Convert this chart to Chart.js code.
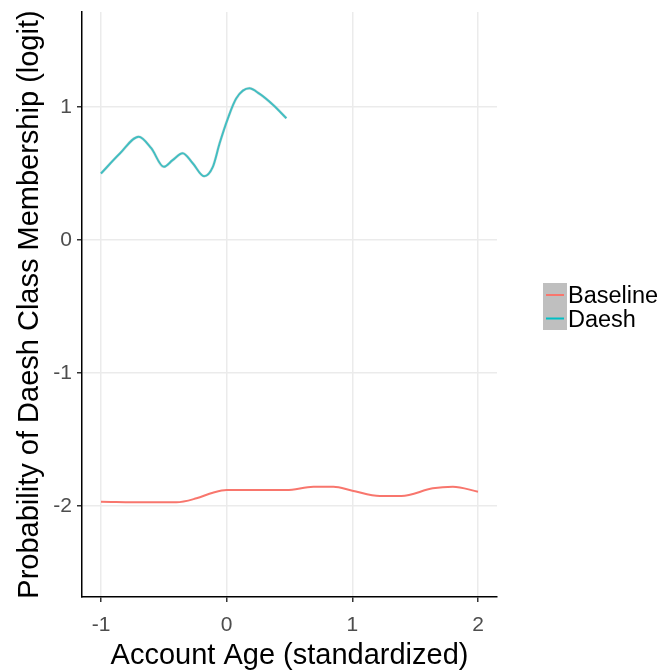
<!DOCTYPE html>
<html>
<head>
<meta charset="utf-8">
<script src="https://cdn.jsdelivr.net/npm/chart.js@4/dist/chart.umd.min.js"></script>
<style>
  html, body { margin: 0; padding: 0; background: #fff; }
  #wrap { width: 663px; height: 670px; position: relative; }
</style>
</head>
<body>
<div id="wrap"><canvas id="myChart" width="663" height="670"></canvas></div>
<script>
// values
const daeshX = [-1.0, -0.85, -0.70, -0.60, -0.50, -0.43, -0.35, -0.27, -0.18, -0.11, -0.056, 0.01, 0.077, 0.18, 0.26, 0.37, 0.475];
const daeshY = [0.50, 0.65, 0.777, 0.69, 0.550, 0.60, 0.652, 0.577, 0.48, 0.55, 0.727, 0.915, 1.065, 1.14, 1.10, 1.015, 0.915];
const baselineX = [-1.0, -0.64, -0.40, -0.24, -0.11, 0, 0.155, 0.475, 0.69, 0.85, 1.0, 1.22, 1.39, 1.64, 1.80, 2.0];
const baselineY = [-1.968, -1.972, -1.972, -1.942, -1.90, -1.88, -1.88, -1.88, -1.855, -1.855, -1.885, -1.925, -1.925, -1.867, -1.855, -1.892];
const xTicks = [-1, 0, 1, 2];
const yTicks = [-2, -1, 0, 1];
const groups = ['Baseline', 'Daesh'];
const colors = ['#F8766D', '#00BFC4'];

const pts = (xs, ys) => xs.map((x, i) => ({ x: x, y: ys[i] }));

// legend drawn by hand, ggplot style
const legendPlugin = {
    id: 'ggLegend',
    afterDraw(chart) {
        const c = chart.ctx;
        c.save();
        c.fillStyle = '#bfbfbf';
        c.fillRect(543, 283, 24, 47);
        groups.forEach((g, i) => {
            const y = 295 + i * 23.5;
            c.strokeStyle = colors[i];
            c.lineWidth = 2;
            c.beginPath();
            c.moveTo(546, y);
            c.lineTo(564, y);
            c.stroke();
            c.fillStyle = '#000';
            c.font = '23.5px "Liberation Sans", Arial, sans-serif';
            c.textBaseline = 'middle';
            c.fillText(g, 568, y + 2);
        });
        c.restore();
    }
};

const ctx = document.getElementById('myChart').getContext('2d');
const myChart = new Chart(ctx, {
    type: 'line',
    data: {
        datasets: [{
            label: 'Daesh band',
            data: pts(daeshX, daeshY),
            borderColor: 'rgba(190,190,190,0.35)',
            borderWidth: 3,
            pointRadius: 0,
            cubicInterpolationMode: 'monotone'
        }, {
            label: 'Baseline',
            data: pts(baselineX, baselineY),
            borderColor: colors[0],
            borderWidth: 2,
            pointRadius: 0,
            cubicInterpolationMode: 'monotone'
        }, {
            label: 'Daesh',
            data: pts(daeshX, daeshY),
            borderColor: colors[1],
            borderWidth: 2,
            pointRadius: 0,
            cubicInterpolationMode: 'monotone'
        }]
    },
    options: {
        responsive: false,
        animation: false,
        layout: { padding: { top: 12, right: 166, left: 0, bottom: 0 } },
        plugins: { legend: { display: false }, tooltip: { enabled: false } },
        scales: {
            x: {
                type: 'linear',
                min: -1.151,
                max: 2.151,
                afterBuildTicks: s => { s.ticks = xTicks.map(v => ({ value: v })); },
                afterFit: s => { s.height = 73; s.paddingLeft = 0; s.paddingRight = 0; },
                grid: { color: '#ebebeb', lineWidth: 1.5, tickColor: '#333', tickLength: 5 },
                border: { color: '#000', width: 1.5 },
                ticks: { color: '#4d4d4d', font: { size: 21, family: '"Liberation Sans", Arial' }, padding: 11, maxRotation: 0 },
                title: { display: true, text: 'Account Age (standardized)', color: '#000',
                         font: { size: 29, family: '"Liberation Sans", Arial' }, padding: { top: 0, bottom: -3 } }
            },
            y: {
                min: -2.684,
                max: 1.714,
                afterBuildTicks: s => { s.ticks = yTicks.map(v => ({ value: v })); },
                afterFit: s => { s.width = 82; s.paddingTop = 0; s.paddingBottom = 0; },
                grid: { color: '#ebebeb', lineWidth: 1.5, tickColor: '#333', tickLength: 5 },
                border: { color: '#000', width: 1.5 },
                ticks: { color: '#4d4d4d', font: { size: 21, family: '"Liberation Sans", Arial' }, padding: 5 },
                title: { display: true, text: 'Probability of Daesh Class Membership (logit)', color: '#000',
                         font: { size: 29, family: '"Liberation Sans", Arial' }, padding: { top: 13, bottom: 0 } }
            }
        }
    },
    plugins: [legendPlugin]
});
</script>
</body>
</html>
